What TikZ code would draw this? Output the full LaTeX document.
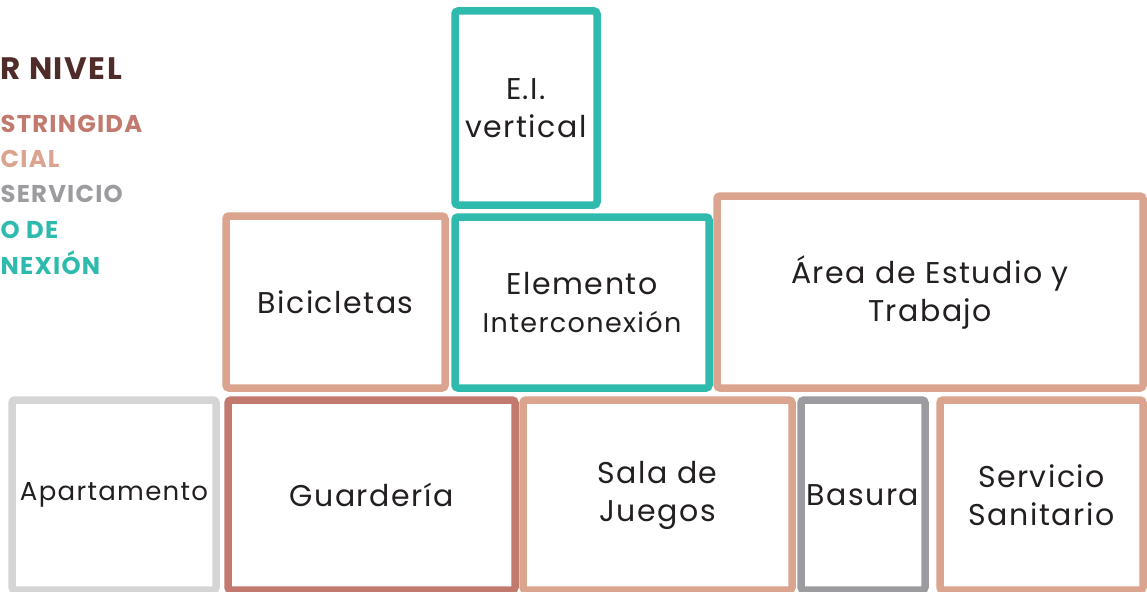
\documentclass[tikz,border=0pt]{standalone}
\usepackage{fontspec}
\setmainfont[LetterSpace=5]{Poppins}
\definecolor{teal}{HTML}{2FBAAE}
\definecolor{salmon}{HTML}{DBA48E}
\definecolor{darksalmon}{HTML}{C27A6E}
\definecolor{midgray}{HTML}{9C9CA0}
\definecolor{lightgray}{HTML}{D5D5D5}
\definecolor{brown}{HTML}{4F2C2A}
\definecolor{txt}{HTML}{231F20}
\tikzset{
  room/.style={draw, line width=7.5pt, rounded corners=3pt, inner sep=0pt, outer sep=0pt,
    anchor=north west, align=center, text=txt, font=\fontsize{30}{38}\selectfont},
  legend/.style={anchor=base west, inner sep=0pt, font=\bfseries\fontsize{24.3}{28}\selectfont}
}
\begin{document}
\begin{tikzpicture}[x=1pt,y=-1pt]
\useasboundingbox (0,0) rectangle (1147,591);
\fill[white] (0,0) rectangle (1147,591);
% legend
\node[legend, text=brown, font=\bfseries\fontsize{31}{34}\selectfont] (l1) at (0.5,80) {R NIVEL};
\node[legend, text=darksalmon] (l2) at (0.5,132) {STRINGIDA};
\node[legend, text=salmon] (l3) at (0.5,167) {CIAL};
\node[legend, text=midgray] (l4) at (0.5,202) {SERVICIO};
\node[legend, text=teal] (l5) at (0.5,238) {O DE};
\node[legend, text=teal] (l6) at (0.5,274) {NEXIÓN};
% rooms
\node[room, draw=teal, minimum width=142pt, minimum height=194pt] (ei) at (455,11) {E.I.\\vertical};
\node[room, draw=salmon, minimum width=219pt, minimum height=172pt] (bici) at (226,216) {Bicicletas};
\node[room, draw=teal, minimum width=254pt, minimum height=171pt] (elem) at (455,217) {Elemento\\{\fontsize{27}{34}\selectfont Interconexión}};
\node[room, draw=salmon, minimum width=426pt, minimum height=192pt] (area) at (717,196) {Área de Estudio y\\Trabajo};
\node[room, draw=lightgray, minimum width=204pt, minimum height=190pt, font=\fontsize{26}{30}\selectfont] (apto) at (12,400) {Apartamento};
\node[room, draw=darksalmon, minimum width=287pt, minimum height=190pt] (guard) at (228,400) {Guardería};
\node[room, draw=salmon, minimum width=269pt, minimum height=190pt] (sala) at (523,400) {Sala de\\Juegos};
\node[room, draw=midgray, minimum width=124pt, minimum height=190pt] (bas) at (801,400) {Basura};
\node[room, draw=salmon, minimum width=203pt, minimum height=190pt] (serv) at (940,400) {Servicio\\Sanitario};
\end{tikzpicture}
\end{document}
